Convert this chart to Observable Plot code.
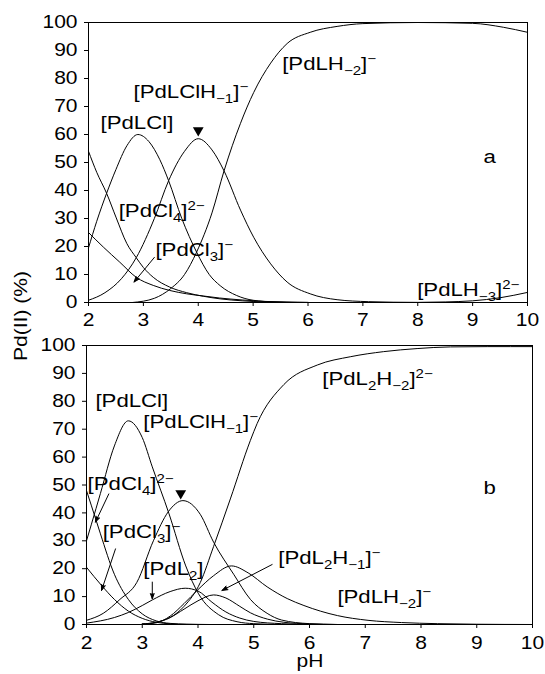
<!DOCTYPE html>
<html><head><meta charset="utf-8">
<script src="https://cdn.jsdelivr.net/npm/d3@7"></script>
<script src="https://cdn.jsdelivr.net/npm/@observablehq/plot@0.6"></script>
<style>
body{margin:0;background:#fff;font-family:"Liberation Sans",Arial,sans-serif;}
#wrap{position:relative;width:545px;height:674px;overflow:hidden}
#pa{position:absolute;left:0;top:0}
#pb{position:absolute;left:0;top:330px}
.ylab{position:absolute;left:22px;top:316px;transform:translate(-50%,-50%) rotate(-90deg) scaleX(1.2);font-size:17.5px;line-height:1;white-space:nowrap}
.xlab{position:absolute;left:310px;top:662px;transform:translate(-50%,-50%) scaleX(1.2);font-size:17.5px;line-height:1}
</style></head>
<body>
<div id="wrap">
  <div id="pa"></div>
  <div id="pb"></div>
  <div class="ylab">Pd(II) (%)</div>
  <div class="xlab">pH</div>
</div>
<script>
// ---- axis ticks ----
const xTicks = [2, 3, 4, 5, 6, 7, 8, 9, 10];
const yTicks = [0, 10, 20, 30, 40, 50, 60, 70, 80, 90, 100];

// ---- panel a: [pH, %] ----
const a_PdCl4 = [[2,54],[2.15,46.5],[2.33,39],[2.5,30.5],[2.7,21],[2.87,16],[3.0,12.5],[3.18,9],[3.48,5.5],[3.79,3.5],[4.1,2.2],[4.4,1.3],[4.8,0.6],[5.2,0.2],[5.6,0.05],[6,0]];
const a_PdCl3 = [[2,25],[2.27,19.8],[2.57,14.4],[2.87,9],[3.18,6.1],[3.48,4.3],[3.79,3.1],[4.1,2.3],[4.39,1.6],[4.8,0.9],[5.2,0.4],[5.6,0.15],[6,0.05]];
const a_PdLCl = [[2,19.5],[2.15,29],[2.33,39],[2.5,47.5],[2.7,56],[2.9,60],[3.1,57.5],[3.3,51],[3.46,43.5],[3.7,30],[3.97,18],[4.2,10],[4.4,6],[4.7,2.5],[5,0.8],[5.4,0.2],[6,0]];
const a_PdLClH1 = [[2,0.8],[2.3,3.5],[2.6,8.5],[2.87,16],[3.2,30],[3.46,43.5],[3.75,54],[4.0,58.5],[4.25,54.5],[4.47,47],[4.77,33],[5.01,23.3],[5.32,13.8],[5.62,7.3],[6.04,3.1],[6.53,1],[7.1,0.3],[8,0]];
const a_PdLH2 = [[2.8,0],[3.2,1.5],[3.5,5],[3.75,10],[3.97,18],[4.25,32],[4.47,47],[4.77,64],[5.01,75],[5.32,85.5],[5.62,92.5],[6.04,96.5],[6.53,98.6],[7,99.6],[8,100],[9,99.7],[9.56,98.3],[10,96.5]];
const a_PdLH3 = [[7,0],[8,0.05],[8.5,0.2],[9,0.6],[9.5,1.7],[10,3.6]];

// ---- panel b: [pH, %] ----
const b_PdCl4 = [[2,48],[2.17,37.5],[2.25,32.5],[2.5,18],[2.75,9],[3.0,3.8],[3.25,1.3],[3.5,0.4],[3.8,0.1],[4.2,0]];
const b_PdCl3 = [[2,20.5],[2.27,14],[2.5,9],[2.75,4.8],[3.0,2.2],[3.25,0.8],[3.5,0.25],[3.8,0.05],[4.2,0]];
const b_PdLCl = [[2,30],[2.17,41.5],[2.25,47],[2.5,64],[2.75,73],[3.0,67],[3.18,56.5],[3.48,39.7],[3.78,21],[4.01,11],[4.37,3.5],[4.7,1],[5,0.3],[5.5,0]];
const b_PdLClH1 = [[2,1.5],[2.3,4],[2.6,9],[2.9,15],[3.2,30],[3.47,40.5],[3.73,44.4],[4.04,39.5],[4.28,29.5],[4.64,18],[4.94,9],[5.24,4],[5.5,1.6],[6,0.3],[6.5,0]];
const b_PdL2 = [[2,0.5],[2.5,2.5],[2.75,4.3],[3.0,6.8],[3.18,8.8],[3.5,11.8],[3.77,13],[4.0,12],[4.25,8],[4.5,4.5],[4.75,2.3],[5,1.1],[5.5,0.3],[6,0.05],[6.5,0]];
const b_PdL2H1 = [[3.0,0.2],[3.25,0.8],[3.5,2.5],[3.75,5.5],[4.0,8.5],[4.28,10.6],[4.5,9.5],[4.75,6.5],[4.94,4.2],[5.25,1.9],[5.54,0.8],[6,0.2],[6.5,0]];
const b_PdLH2 = [[3.0,0.1],[3.25,0.6],[3.5,3],[3.75,7.5],[4.0,12.5],[4.28,17.5],[4.6,21],[4.9,18.5],[5.24,13.5],[5.6,9.3],[5.9,6.8],[6.5,3.2],[7.05,1.5],[7.65,0.7],[8.3,0.3],[9,0.1],[10,0]];
const b_PdL2H2 = [[3.0,0.2],[3.25,0.8],[3.5,2.5],[3.75,6.5],[4.04,15],[4.28,28],[4.58,45],[4.94,66],[5.06,72],[5.54,86],[6.14,93],[6.74,96],[7.33,97.8],[7.93,98.9],[8.53,99.5],[9.2,99.6],[10,99.6]];

// ---- annotations (data coordinates) ----
const a_labels = [
  {x: 5.53, y: 85, t: "[PdLH_{−2}]^{−}"},
  {x: 2.82, y: 75, t: "[PdLClH_{−1}]^{−}"},
  {x: 2.22, y: 64, t: "[PdLCl]"},
  {x: 2.55, y: 32.5, t: "[PdCl_{4}]^{2−}"},
  {x: 3.22, y: 18.6, t: "[PdCl_{3}]^{−}"},
  {x: 7.99, y: 4.6, t: "[PdLH_{−3}]^{2−}"},
  {x: 9.2, y: 52, t: "a"}
];
const a_arrows = [{x1: 3.20, y1: 16.1, x2: 2.83, y2: 7.3}];
const a_marks = [{x: 4.0, y: 61.5}];

const b_labels = [
  {x: 6.23, y: 88, t: "[PdL_{2}H_{−2}]^{2−}"},
  {x: 2.16, y: 80, t: "[PdLCl]"},
  {x: 3.02, y: 72.4, t: "[PdLClH_{−1}]^{−}"},
  {x: 2.02, y: 50.5, t: "[PdCl_{4}]^{2−}"},
  {x: 2.29, y: 33, t: "[PdCl_{3}]^{−}"},
  {x: 3.02, y: 20, t: "[PdL_{2}]"},
  {x: 5.44, y: 23.7, t: "[PdL_{2}H_{−1}]^{−}"},
  {x: 6.5, y: 10, t: "[PdLH_{−2}]^{−}"},
  {x: 9.12, y: 49, t: "b"}
];
const b_arrows = [
  {x1: 2.40, y1: 46.8, x2: 2.16, y2: 36.7},
  {x1: 2.52, y1: 27.1, x2: 2.27, y2: 12.2},
  {x1: 3.18, y1: 15.2, x2: 3.18, y2: 9.2},
  {x1: 5.33, y1: 21.5, x2: 4.43, y2: 12.2}
];
const b_marks = [{x: 3.69, y: 47}];

const FONT = "'Liberation Sans', Arial, sans-serif";
const SX = 1.2; // horizontal stretch of the reference lettering

function richify(svg) {
  svg.querySelectorAll("text").forEach(t => {
    const s = t.textContent;
    if (/[_^]\{/.test(s)) {
      t.textContent = "";
      const re = /([_^])\{([^}]*)\}|([^_^]+)/g;
      let m, shift = 0;
      while ((m = re.exec(s))) {
        const ts = document.createElementNS("http://www.w3.org/2000/svg", "tspan");
        if (m[3]) {
          ts.textContent = m[3];
          if (shift) ts.setAttribute("dy", -shift);
          shift = 0;
        } else {
          const d = m[1] === "_" ? 5 : -7;
          ts.textContent = m[2];
          ts.setAttribute("font-size", "12.5");
          ts.setAttribute("dy", d - shift);
          shift = d;
        }
        t.appendChild(ts);
      }
    }
    const tr = t.getAttribute("transform");
    if (tr) t.setAttribute("transform", `${tr} scale(${SX},1)`);
  });
  svg.querySelectorAll("g[aria-label=arrow] path").forEach(p => p.setAttribute("fill", "black"));
}

function panel(series, labels, arrows, marks, opts) {
  const lines = series.map(s => Plot.line(s, {x: d => d[0], y: d => d[1], curve: "monotone-x", stroke: "black", strokeWidth: 1}));
  const svg = Plot.plot({
    width: 545,
    height: opts.height,
    marginTop: opts.mt, marginBottom: opts.mb, marginLeft: opts.ml, marginRight: opts.mr,
    style: {fontFamily: FONT, fontSize: "17.5px", color: "black", background: "white", overflow: "visible"},
    x: {domain: [2, 10], ticks: xTicks, tickSize: 4, tickPadding: opts.xpad, label: null},
    y: {domain: [0, 100], ticks: yTicks, tickSize: 4, tickPadding: 7, label: null},
    marks: [
      ...lines,
      Plot.frame({stroke: "black", strokeWidth: 1}),
      Plot.arrow(arrows, {x1: "x1", y1: "y1", x2: "x2", y2: "y2", stroke: "black", strokeWidth: 1, headLength: 9, headAngle: 40}),
      Plot.dot(marks, {x: "x", y: "y", symbol: "triangle", rotate: 180, r: 4, fill: "black", stroke: null}),
      Plot.text(labels, {x: "x", y: "y", text: "t", textAnchor: "start", fontSize: 18.5, fill: "black", fontFamily: FONT})
    ]
  });
  richify(svg);
  return svg;
}

document.getElementById("pa").appendChild(panel(
  [a_PdCl4, a_PdCl3, a_PdLCl, a_PdLClH1, a_PdLH2, a_PdLH3],
  a_labels, a_arrows, a_marks,
  {height: 330, mt: 22, mb: 28, ml: 88, mr: 18, xpad: 7}
));
document.getElementById("pb").appendChild(panel(
  [b_PdCl4, b_PdCl3, b_PdLCl, b_PdLClH1, b_PdL2, b_PdL2H1, b_PdLH2, b_PdL2H2],
  b_labels, b_arrows, b_marks,
  {height: 344, mt: 15, mb: 50, ml: 86, mr: 13, xpad: 8}
));
</script>
</body></html>
